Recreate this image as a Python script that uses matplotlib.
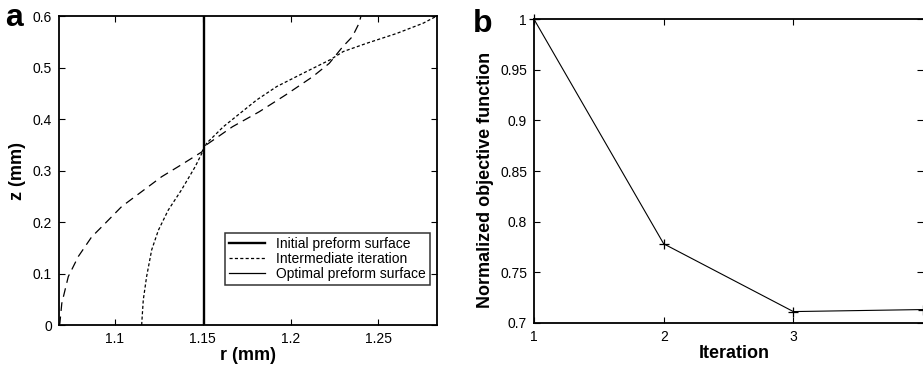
import matplotlib
matplotlib.use("Agg")
import matplotlib.pyplot as plt
from matplotlib.lines import Line2D

plt.rcParams['font.family'] = ['Liberation Sans', 'DejaVu Sans']

# panel a: preform surfaces, r (mm) vs z (mm)
initial_r = 1.1505
inter_z = [0.0, 0.003, 0.042, 0.094, 0.133, 0.171, 0.197, 0.230, 0.259, 0.288, 0.311,
           0.336, 0.3495, 0.385, 0.414, 0.447, 0.482, 0.508, 0.540, 0.560, 0.586, 0.599]
inter_r = [1.0681, 1.0686, 1.0697, 1.0734, 1.0791, 1.0867, 1.0943, 1.1038, 1.1152, 1.1266, 1.1377,
           1.1494, 1.1519, 1.1669, 1.1821, 1.1973, 1.2125, 1.2220, 1.2296, 1.2352, 1.2390, 1.2400]
opt_z = [0.0, 0.0065, 0.0485, 0.094, 0.146, 0.184, 0.223, 0.262, 0.307, 0.333, 0.353,
         0.385, 0.411, 0.437, 0.463, 0.489, 0.515, 0.531, 0.547, 0.566, 0.586, 0.600]
opt_r = [1.1152, 1.1153, 1.1161, 1.118, 1.1209, 1.1247, 1.1303, 1.1378, 1.1456, 1.1494, 1.1522,
         1.1617, 1.1712, 1.1807, 1.1921, 1.2072, 1.2225, 1.2300, 1.2433, 1.2603, 1.2755, 1.2833]

# panel b: objective function per iteration
iterations = [1, 2, 3, 4]
objective = [1.0, 0.778, 0.711, 0.713]

fig = plt.figure(figsize=(9.23, 3.67), dpi=100)

ax1 = fig.add_axes([0.0639, 0.1144, 0.4096, 0.842])
ax1.axvline(initial_r, color='black', lw=1.7)
ax1.plot(inter_r, inter_z, color='black', lw=0.9, dashes=(7, 4.5))
ax1.plot(opt_r, opt_z, color='black', lw=0.9, dashes=(2.5, 1.8))
ax1.set_xlim(1.0681, 1.2834)
ax1.set_ylim(0, 0.6)
ax1.set_xticks([1.1, 1.15, 1.2, 1.25])
ax1.set_xticklabels(['1.1', '1.15', '1.2', '1.25'])
ax1.set_yticks([0, 0.1, 0.2, 0.3, 0.4, 0.5, 0.6])
ax1.set_yticklabels(['0', '0.1', '0.2', '0.3', '0.4', '0.5', '0.6'])
ax1.set_xlabel('r (mm)', fontsize=13, fontweight='bold', labelpad=1)
ax1.set_ylabel('z (mm)', fontsize=13, fontweight='bold', labelpad=5)

handles = [Line2D([], [], color='black', lw=1.7),
           Line2D([], [], color='black', lw=0.9, dashes=(2.5, 1.8)),
           Line2D([], [], color='black', lw=0.9)]
labels = ['Initial preform surface', 'Intermediate iteration', 'Optimal preform surface']
leg = ax1.legend(handles, labels, loc='lower right', bbox_to_anchor=(0.981, 0.13),
                 fontsize=10, frameon=True, fancybox=False, edgecolor='black',
                 borderpad=0.3, labelspacing=0.05, handlelength=2.6, handletextpad=0.8,
                 borderaxespad=0)
leg.get_frame().set_linewidth(1.1)

ax2 = fig.add_axes([0.5786, 0.1207, 0.4214, 0.8267])
ax2.plot(iterations, objective, color='black', lw=0.8, marker='+', markersize=7, mew=0.9,
         clip_on=False)
ax2.set_xlim(1, 4)
ax2.set_ylim(0.7, 1.0)
ax2.set_xticks([1, 2, 3])
ax2.set_yticks([0.7, 0.75, 0.8, 0.85, 0.9, 0.95, 1.0])
ax2.set_yticklabels(['0.7', '0.75', '0.8', '0.85', '0.9', '0.95', '1'])
ax2.set_xlabel('Iteration', fontsize=13, fontweight='bold')
ax2.set_ylabel('Normalized objective function', fontsize=13, fontweight='bold')
ax2.xaxis.set_label_coords(0.515, -0.075)
ax2.yaxis.set_label_coords(-0.102, 0.47)
ax2.spines['right'].set_visible(False)

for ax in (ax1, ax2):
    ax.tick_params(direction='in', top=True, right=True, labelsize=10, length=4, width=0.8, pad=5)
    for s in ax.spines.values():
        s.set_linewidth(1.3)

fig.text(0.006, 0.929, 'a', fontsize=23, fontweight='bold', va='baseline')
fig.text(0.512, 0.913, 'b', fontsize=23, fontweight='bold', va='baseline')

fig.savefig('out.png', dpi=100)
